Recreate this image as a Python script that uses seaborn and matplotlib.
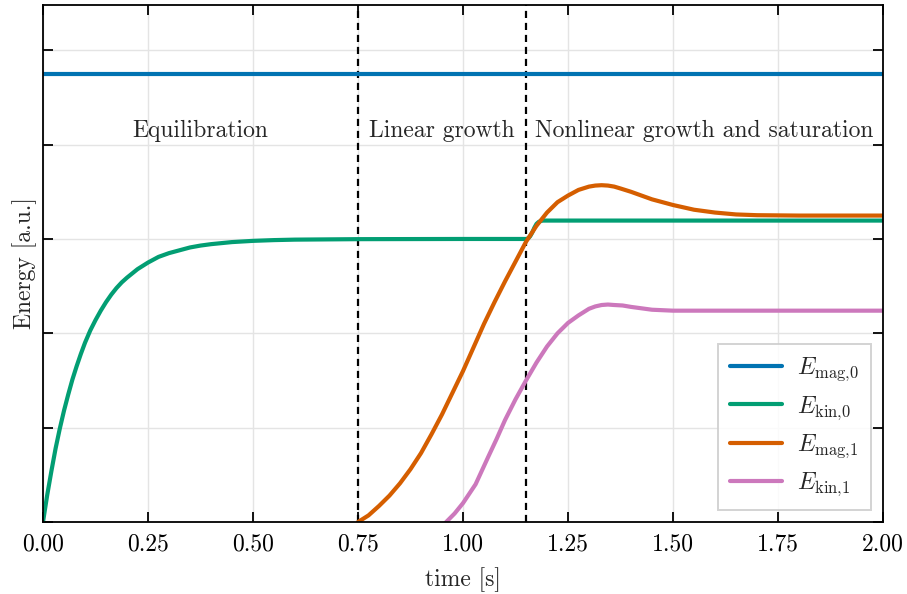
import numpy as np
import pandas as pd
import matplotlib
matplotlib.use("Agg")
import matplotlib.pyplot as plt
import seaborn as sns

# ---- data ----
t_mag0 = [0.0, 2.0]
e_mag0 = [4.75, 4.75]

t_kin0 = [0.0, 0.01, 0.02, 0.03, 0.04, 0.05, 0.06, 0.07, 0.08, 0.09, 0.10, 0.1125, 0.125,
          0.1375, 0.15, 0.1625, 0.175, 0.1875, 0.20, 0.225, 0.25, 0.275, 0.30, 0.325,
          0.35, 0.375, 0.40, 0.45, 0.50, 0.55, 0.60, 0.75, 1.00, 1.15, 1.155, 1.16,
          1.165, 1.17, 1.175, 1.18, 1.185, 1.19, 1.50, 2.00]
e_kin0 = [0.0, 0.285, 0.54, 0.78, 0.99, 1.18, 1.35, 1.51, 1.65, 1.78, 1.90, 2.03, 2.14,
          2.24, 2.33, 2.41, 2.48, 2.54, 2.59, 2.68, 2.75, 2.81, 2.85, 2.88,
          2.91, 2.93, 2.945, 2.967, 2.98, 2.988, 2.993, 2.998, 3.0, 3.0, 3.005, 3.03,
          3.07, 3.12, 3.16, 3.18, 3.19, 3.195, 3.195, 3.195]

t_mag1 = [0.75, 0.775, 0.80, 0.825, 0.85, 0.875, 0.90, 0.925, 0.95, 0.975, 1.00, 1.025,
          1.05, 1.075, 1.10, 1.125, 1.15, 1.175, 1.20, 1.225, 1.25, 1.275, 1.30, 1.315,
          1.33, 1.345, 1.36, 1.375, 1.40, 1.425, 1.45, 1.475, 1.50, 1.525,
          1.55, 1.575, 1.60, 1.65, 1.70, 1.80, 2.00]
e_mag1 = [0.0, 0.07, 0.17, 0.28, 0.41, 0.56, 0.73, 0.93, 1.14, 1.37, 1.60, 1.85,
          2.10, 2.33, 2.55, 2.76, 2.97, 3.14, 3.28, 3.39, 3.46, 3.52, 3.555, 3.566,
          3.57, 3.566, 3.555, 3.535, 3.50, 3.46, 3.42, 3.39, 3.36, 3.335,
          3.31, 3.295, 3.28, 3.26, 3.252, 3.248, 3.248]

t_kin1 = [0.94, 0.96, 0.98, 1.00, 1.03, 1.06, 1.08, 1.10, 1.125, 1.15, 1.175, 1.20,
          1.225, 1.25, 1.275, 1.30, 1.315, 1.33, 1.345, 1.36, 1.38, 1.40, 1.425, 1.45,
          1.475, 1.50, 1.60, 2.00]
e_kin1 = [-0.12, 0.0, 0.09, 0.20, 0.40, 0.69, 0.88, 1.08, 1.30, 1.50, 1.69, 1.86,
          2.00, 2.11, 2.19, 2.26, 2.285, 2.30, 2.305, 2.30, 2.295, 2.28, 2.265, 2.25,
          2.245, 2.24, 2.24, 2.24]

phase_bounds = [0.75, 1.15]
phase_labels = ["Equilibration", "Linear growth", "Nonlinear growth and saturation"]
phase_x = [0.375, 0.95, 1.575]

x_ticks = [0.0, 0.25, 0.5, 0.75, 1.0, 1.25, 1.5, 1.75, 2.0]
x_ticklabels = ["0.00", "0.25", "0.50", "0.75", "1.00", "1.25", "1.50", "1.75", "2.00"]
y_ticks = [0, 1, 2, 3, 4, 5]

labels = [r"$E_{\mathrm{mag},\!0}$", r"$E_{\mathrm{kin},\!0}$",
          r"$E_{\mathrm{mag},\!1}$", r"$E_{\mathrm{kin},\!1}$"]

# ---- style ----
sns.set_theme(style="ticks")
plt.rcParams.update({
    "font.family": ["cmr10", "DejaVu Serif"],
    "mathtext.fontset": "cm",
    "axes.formatter.use_mathtext": True,
    "font.size": 17,
    "axes.labelsize": 17,
    "xtick.labelsize": 17,
    "ytick.labelsize": 17,
    "legend.fontsize": 17,
    "axes.unicode_minus": False,
})

pal = sns.color_palette("colorblind")
colors = [pal[0], pal[2], pal[3], pal[4]]

fig, ax = plt.subplots(figsize=(9.07, 5.94), dpi=100)
fig.subplots_adjust(left=43/907, right=883/907, bottom=1-522/594, top=1-5/594)

series = [(t_mag0, e_mag0), (t_kin0, e_kin0), (t_mag1, e_mag1), (t_kin1, e_kin1)]
for (tx, ey), lab, c in zip(series, labels, colors):
    df = pd.DataFrame({"t": tx, "E": ey})
    sns.lineplot(data=df, x="t", y="E", ax=ax, color=c, lw=3.0, label=lab,
                 sort=False, solid_capstyle="round", solid_joinstyle="round")

for xb in phase_bounds:
    ax.axvline(xb, color="black", ls=(0, (3.2, 2.2)), lw=1.6, zorder=1.5)

for xl, txt in zip(phase_x, phase_labels):
    ax.text(xl, 4.15, txt, ha="center", va="center", fontsize=17)

ax.set_xlim(0, 2)
ax.set_ylim(0, 5.48)
ax.set_xticks(x_ticks)
ax.set_xticklabels(x_ticklabels)
ax.set_yticks(y_ticks)
ax.set_yticklabels([])
ax.set_xlabel("time [s]", labelpad=9)
ax.set_ylabel("Energy [a.u.]", labelpad=2)

ax.grid(True, color="#e4e4e4", lw=1.0)
ax.set_axisbelow(True)
ax.tick_params(direction="in", top=True, right=True, length=7, width=1.3,
               colors="black", pad=8)
ax.tick_params(axis="y", pad=2)
for s in ax.spines.values():
    s.set_linewidth(1.3)
    s.set_color("black")

leg = ax.legend(loc="lower right", fancybox=False, framealpha=0.85,
                edgecolor="#cccccc", handlelength=2.2, borderpad=0.5,
                labelspacing=0.45, handletextpad=0.65)
leg.get_frame().set_linewidth(1.4)

fig.savefig("out.png", dpi=100)
